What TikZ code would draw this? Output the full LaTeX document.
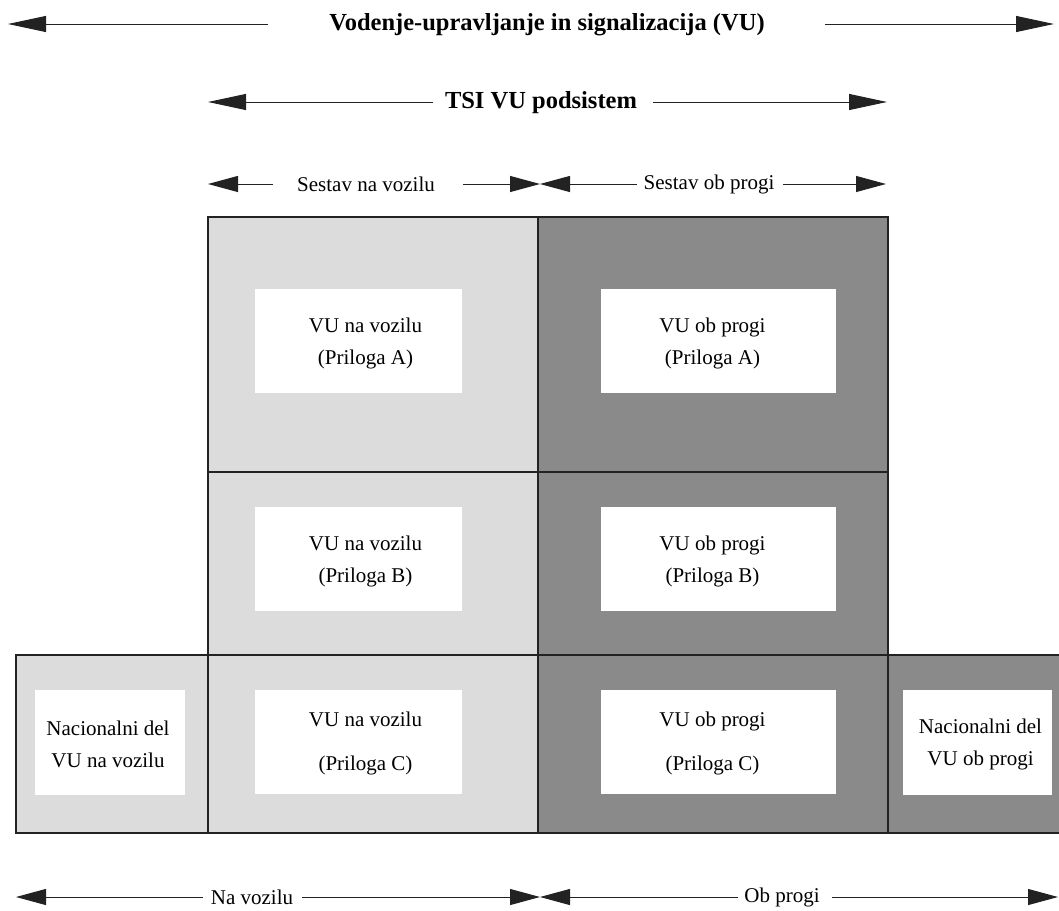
\documentclass[tikz,border=0pt]{standalone}
\usepackage{fontspec}
\setmainfont{Liberation Serif}
\usetikzlibrary{arrows.meta}
\definecolor{lightfill}{HTML}{DCDCDC}
\definecolor{darkfill}{HTML}{8A8A8A}
\definecolor{linec}{HTML}{222222}
\tikzset{
  arr/.style={draw=linec, line width=1pt, -{Triangle[length=30pt,width=16pt]}},
  bigarr/.style={arr, -{Triangle[length=38pt,width=16pt]}},
  lbl/.style={font=\fontsize{21}{24}\selectfont, inner sep=0pt},
  ttl/.style={font=\fontsize{24.5}{28}\selectfont\bfseries, inner sep=0pt},
  light/.style={fill=lightfill, draw=linec, line width=1.5pt},
  dark/.style={fill=darkfill, draw=linec, line width=1.5pt},
  wbox/.style={fill=white, draw=none, inner sep=0pt},
  txt/.style={align=center, inner sep=0pt, font=\fontsize{21}{32}\selectfont},
  txtw/.style={align=center, inner sep=0pt, font=\fontsize{21}{44}\selectfont},
}
\begin{document}
\begin{tikzpicture}[x=1pt,y=-1pt]
\useasboundingbox (0,0) rectangle (1059,910);
\clip (0,0) rectangle (1059,910);
% headers
\node[ttl] (t1) at (547,25) {Vodenje-upravljanje in signalizacija (VU)};
\coordinate (t1a) at (268,24); \coordinate (t1b) at (8,24);
\coordinate (t1c) at (825,24); \coordinate (t1d) at (1054,24);
\draw[bigarr] (t1a) -- (t1b);
\draw[bigarr] (t1c) -- (t1d);
\node[ttl] (t2) at (541,103) {TSI VU podsistem};
\coordinate (t2a) at (433,102); \coordinate (t2b) at (208,102);
\coordinate (t2c) at (653,102); \coordinate (t2d) at (887,102);
\draw[bigarr] (t2a) -- (t2b);
\draw[bigarr] (t2c) -- (t2d);
\node[lbl] (t3) at (366,184) {Sestav na vozilu};
\node[lbl] (t4) at (709,184) {Sestav ob progi};
\coordinate (t3a) at (273,184); \coordinate (t3b) at (208,184);
\coordinate (t3c) at (463,184); \coordinate (mid) at (540,184);
\coordinate (t4a) at (637,184); \coordinate (t4c) at (783,184); \coordinate (t4d) at (886,184);
\draw[arr] (t3a) -- (t3b);
\draw[arr] (t3c) -- (mid);
\draw[arr] (t4a) -- (mid);
\draw[arr] (t4c) -- (t4d);
% cells
\path[light] (208,217) rectangle (538,472);
\path[light] (208,472) rectangle (538,655);
\path[light] (208,655) rectangle (538,833);
\path[light] (16,655) rectangle (208,833);
\path[dark] (538,217) rectangle (888,472);
\path[dark] (538,472) rectangle (888,655);
\path[dark] (538,655) rectangle (888,833);
\path[dark] (888,655) rectangle (1065,833);
% inner boxes
\node[wbox, minimum width=207pt, minimum height=104pt] (a1) at (358.5,341) {};
\node[wbox, minimum width=207pt, minimum height=104pt] (b1) at (358.5,559) {};
\node[wbox, minimum width=207pt, minimum height=104pt] (c1) at (358.5,741.5) {};
\node[wbox, minimum width=235pt, minimum height=104pt] (a2) at (718.5,341) {};
\node[wbox, minimum width=235pt, minimum height=104pt] (b2) at (718.5,559) {};
\node[wbox, minimum width=235pt, minimum height=104pt] (c2) at (718.5,741.5) {};
\node[wbox, minimum width=150pt, minimum height=105pt] (n1) at (110,742.5) {};
\node[wbox, minimum width=149pt, minimum height=105pt] (n2) at (977.5,742.5) {};
\node[txt] (a1t) at ([xshift=7pt,yshift=-2pt]a1.center) {VU na vozilu\\(Priloga A)};
\node[txt] (b1t) at ([xshift=7pt,yshift=-2pt]b1.center) {VU na vozilu\\(Priloga B)};
\node[txtw] (c1t) at ([xshift=7pt,yshift=-2pt]c1.center) {VU na vozilu\\(Priloga C)};
\node[txt] (a2t) at ([xshift=-6pt,yshift=-2pt]a2.center) {VU ob progi\\(Priloga A)};
\node[txt] (b2t) at ([xshift=-6pt,yshift=-2pt]b2.center) {VU ob progi\\(Priloga B)};
\node[txtw] (c2t) at ([xshift=-6pt,yshift=-2pt]c2.center) {VU ob progi\\(Priloga C)};
\node[txt] (n1t) at ([xshift=-2pt,yshift=-2pt]n1.center) {Nacionalni del\\VU na vozilu};
\node[txt] (n2t) at ([xshift=3pt,yshift=-2pt]n2.center) {Nacionalni del\\VU ob progi};
% bottom
\node[lbl] (b3) at (252,897) {Na vozilu};
\node[lbl] (b4) at (782,897) {Ob progi};
\coordinate (b3a) at (203,897); \coordinate (b3b) at (16,897);
\coordinate (b3c) at (302,897); \coordinate (bmid) at (540,897);
\coordinate (b4a) at (738,897); \coordinate (b4c) at (832,897); \coordinate (b4d) at (1058,897);
\draw[arr] (b3a) -- (b3b);
\draw[arr] (b3c) -- (bmid);
\draw[arr] (b4a) -- (bmid);
\draw[arr] (b4c) -- (b4d);
\end{tikzpicture}
\end{document}
